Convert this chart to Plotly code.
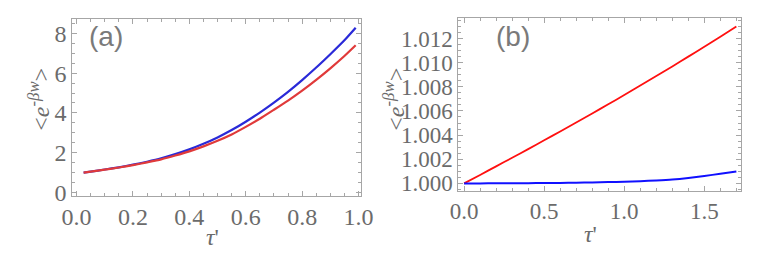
import plotly.graph_objects as go

# Panel (a) data
tau_a = [0.025, 0.05, 0.1, 0.15, 0.2, 0.25, 0.3, 0.35, 0.4, 0.45, 0.5, 0.55, 0.6, 0.65, 0.7, 0.75, 0.8, 0.85, 0.9, 0.95, 0.99]
blue_a = [1.00, 1.05, 1.16, 1.27, 1.40, 1.55, 1.72, 1.93, 2.17, 2.45, 2.77, 3.14, 3.56, 4.02, 4.52, 5.06, 5.65, 6.28, 6.95, 7.65, 8.28]
red_a = [1.00, 1.05, 1.15, 1.26, 1.38, 1.52, 1.67, 1.86, 2.07, 2.32, 2.60, 2.92, 3.30, 3.71, 4.16, 4.62, 5.12, 5.66, 6.24, 6.86, 7.40]

# Panel (b) data
tau_b = [0.0, 0.1, 0.2, 0.3, 0.4, 0.5, 0.6, 0.7, 0.8, 0.9, 1.0, 1.1, 1.2, 1.3, 1.4, 1.5, 1.6, 1.7]
red_b = [1.0, 1.00070, 1.00141, 1.00212, 1.00284, 1.00357, 1.00430, 1.00504, 1.00579, 1.00655,
         1.00732, 1.00810, 1.00889, 1.00969, 1.01050, 1.01132, 1.01215, 1.01300]
blue_b = [1.0, 1.0, 1.000005, 1.00001, 1.00002, 1.00003, 1.00004, 1.00006, 1.00008, 1.00011,
          1.00014, 1.00018, 1.00024, 1.00032, 1.00045, 1.00062, 1.00079, 1.00098]

W, H = 761, 262
GRAY_FRAME = "#a6a6a6"
GRAY_TEXT = "#6b6b6b"
SERIF = "Liberation Serif"
SANS = "Liberation Sans"

fig = go.Figure()
fig.add_trace(go.Scatter(x=tau_a, y=blue_a, mode="lines", line=dict(color="#2a2ad8", width=2.2, shape="spline", smoothing=0.6),
                         xaxis="x", yaxis="y", showlegend=False))
fig.add_trace(go.Scatter(x=tau_a, y=red_a, mode="lines", line=dict(color="#e03a3a", width=2.2, shape="spline", smoothing=0.6),
                         xaxis="x", yaxis="y", showlegend=False))
fig.add_trace(go.Scatter(x=tau_b, y=red_b, mode="lines", line=dict(color="#ff1010", width=1.8, shape="spline", smoothing=0.6),
                         xaxis="x2", yaxis="y2", showlegend=False))
fig.add_trace(go.Scatter(x=tau_b, y=blue_b, mode="lines", line=dict(color="#1010ff", width=2, shape="spline", smoothing=0.6),
                         xaxis="x2", yaxis="y2", showlegend=False))

def px(x):
    return x / W

def py(y):
    return 1 - y / H

tickfont_a = dict(family=SERIF, size=24, color=GRAY_TEXT)
tickfont_b = dict(family=SERIF, size=23, color=GRAY_TEXT)

def axis(domain, rng, dtick, tick0, minor_dtick, fmt, tickfont, anchor):
    return dict(domain=domain, range=rng, dtick=dtick, tick0=tick0, tickformat=fmt,
                showline=True, linecolor=GRAY_FRAME, linewidth=1, mirror="allticks",
                ticks="inside", ticklen=5, tickcolor=GRAY_FRAME, tickwidth=1,
                minor=dict(dtick=minor_dtick, tick0=tick0, ticks="inside", ticklen=3, tickcolor=GRAY_FRAME, showgrid=False),
                showgrid=False, zeroline=False, tickfont=tickfont, anchor=anchor, fixedrange=True)

fig.update_layout(
    width=W, height=H,
    margin=dict(l=0, r=0, t=0, b=0),
    paper_bgcolor="white", plot_bgcolor="white",
    font=dict(family=SERIF, size=22, color=GRAY_TEXT),
    xaxis=axis([px(55), px(353)], [-0.015, 1.01], 0.2, 0, 0.05, ".1f", tickfont_a, "y"),
    yaxis=axis([py(195), py(11)], [-0.15, 8.74], 2, 0, 0.5, "d", tickfont_a, "x"),
    xaxis2=axis([px(453), px(745)], [-0.036, 1.732], 0.5, 0, 0.1, ".1f", tickfont_b, "y2"),
    yaxis2=axis([py(190), py(10)], [0.99939, 1.01373], 0.002, 1.0, 0.0005, ".3f", tickfont_b, "x2"),
)

ylab = "&lt;<i>e</i><sup>-<i>βw</i></sup>&gt;"
xlab = "<i>τ</i>'"
title_font = dict(family=SERIF, size=24, color=GRAY_TEXT)
label_font = dict(family=SANS, size=28, color="#7a7a7a")
annos = [
    dict(x=px(21), y=py(95), text=ylab, textangle=-90, font=title_font),
    dict(x=px(387), y=py(95), text=ylab, textangle=-90, font=title_font),
    dict(x=px(200), y=py(238), text=xlab, font=title_font),
    dict(x=px(589), y=py(235), text=xlab, font=title_font),
    dict(x=px(90), y=py(30), text="(a)", font=label_font),
    dict(x=px(509), y=py(30), text="(b)", font=label_font),
]
for a in annos:
    a.update(xref="paper", yref="paper", showarrow=False, xanchor="center", yanchor="middle")
fig.update_layout(annotations=annos)

fig.write_html("out.html")
